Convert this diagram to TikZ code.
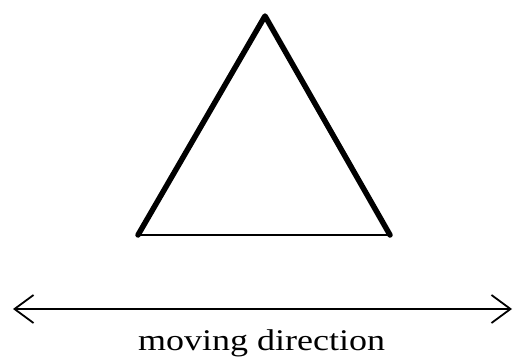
\documentclass[tikz,border=0pt]{standalone}
\usepackage{fontspec}
\setmainfont{Liberation Serif}
\usetikzlibrary{arrows.meta}
\tikzset{
  sideline/.style={line width=5.5pt, line join=round, line cap=round},
  baseline/.style={line width=1.8pt},
  movearrow/.style={{Straight Barb[length=19pt, width=28pt]}-{Straight Barb[length=19pt, width=28pt]}, line width=1.8pt},
  caption/.style={anchor=base, inner sep=0pt, xscale=1.2, font=\fontsize{30pt}{34pt}\selectfont}
}
\begin{document}
\begin{tikzpicture}[x=1pt, y=1pt]
  \useasboundingbox (0,0) rectangle (514,360);

  % the triangle
  \coordinate (top) at (265,344);
  \coordinate (left) at (138,125);
  \coordinate (right) at (390,125);
  \draw[sideline] (left) -- (top) -- (right);
  \draw[baseline] (left) -- (right);

  % moving direction
  \coordinate (arrowl) at (13,51);
  \coordinate (arrowr) at (512,51);
  \draw[movearrow] (arrowl) -- (arrowr);
  \node[caption] (dir) at (261.5,10) {moving direction};
\end{tikzpicture}
\end{document}
